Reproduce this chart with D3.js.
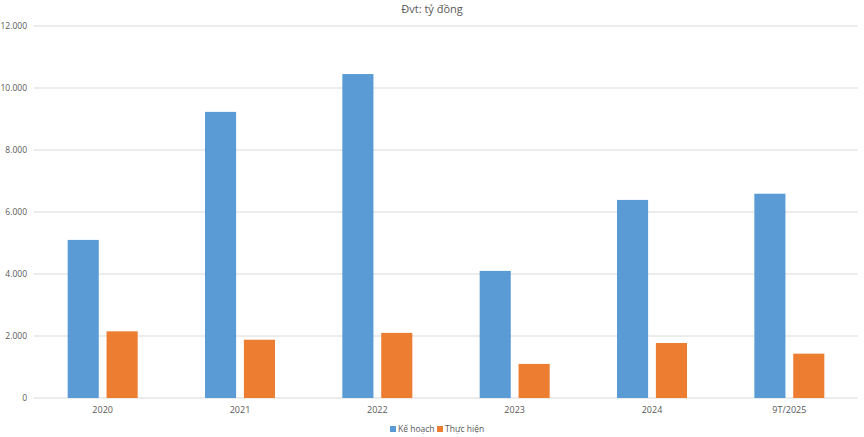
<!DOCTYPE html>
<html>
<head>
<meta charset="utf-8">
<script src="https://cdn.jsdelivr.net/npm/d3@7"></script>
<style>
  body { margin: 0; background: #fff; }
  text { font-family: "Open Sans", "Liberation Sans", sans-serif; }
</style>
</head>
<body>
<svg id="chart" width="864" height="437"></svg>
<script>
// data
var years = ["2020", "2021", "2022", "2023", "2024", "9T/2025"];
var keHoach = [5100, 9230, 10450, 4100, 6390, 6590];
var thucHien = [2150, 1880, 2100, 1100, 1775, 1430];
var seriesNames = ["Kế hoạch", "Thực hiện"];
var yTicks = [0, 2000, 4000, 6000, 8000, 10000, 12000];

var colors = ["#5B9BD5", "#ED7D31"];
var W = 864, H = 437;
var m = { top: 26, right: 6, bottom: 39, left: 34 };

var svg = d3.select("#chart");
var vn = d3.formatLocale({ decimal: ",", thousands: ".", grouping: [3], currency: ["", ""] });
var fmt = vn.format(",d");

var x = d3.scaleBand().domain(years).range([m.left, W - m.right]);
var xs = d3.scaleBand().domain([0, 1]).range([-35, 35]).paddingInner(0.2);
var y = d3.scaleLinear().domain([0, 12000]).range([H - m.bottom, m.top]);

// grid
svg.append("g").selectAll("line").data(yTicks).enter().append("line")
  .attr("x1", m.left).attr("x2", W - m.right)
  .attr("y1", function(d) { return y(d); }).attr("y2", function(d) { return y(d); })
  .attr("stroke", "#d9d9d9").attr("stroke-width", 1);

// y labels
svg.append("g").selectAll("text").data(yTicks).enter().append("text")
  .attr("x", m.left - 7).attr("y", function(d) { return y(d) + 3; })
  .attr("text-anchor", "end").attr("font-size", 8.5).attr("fill", "#595959")
  .text(function(d) { return fmt(d); });

// bars
var rows = years.map(function(yr, i) { return { year: yr, vals: [keHoach[i], thucHien[i]] }; });
var grp = svg.append("g").selectAll("g").data(rows).enter().append("g")
  .attr("transform", function(d) { return "translate(" + (x(d.year) + x.bandwidth() / 2) + ",0)"; });
grp.selectAll("rect").data(function(d) { return d.vals; }).enter().append("rect")
  .attr("x", function(d, i) { return xs(i); })
  .attr("width", xs.bandwidth())
  .attr("y", function(d) { return y(d); })
  .attr("height", function(d) { return y(0) - y(d); })
  .attr("fill", function(d, i) { return colors[i]; });

// x labels
svg.append("g").selectAll("text").data(years).enter().append("text")
  .attr("x", function(d) { return x(d) + x.bandwidth() / 2; })
  .attr("y", y(0) + 15)
  .attr("text-anchor", "middle").attr("font-size", 9).attr("fill", "#595959")
  .text(function(d) { return d; });

// title
svg.append("text").attr("x", W / 2).attr("y", 13)
  .attr("text-anchor", "middle").attr("font-size", 11).attr("fill", "#595959")
  .text("Đvt: tỷ đồng");

// legend
var lg = svg.append("g").attr("transform", "translate(390,432)");
var lx = [0, 47];
seriesNames.forEach(function(s, i) {
  lg.append("rect").attr("x", lx[i]).attr("y", -6).attr("width", 6).attr("height", 6).attr("fill", colors[i]);
  lg.append("text").attr("x", lx[i] + 8).attr("y", 0).attr("font-size", 8.5).attr("fill", "#595959").text(s);
});
</script>
</body>
</html>
